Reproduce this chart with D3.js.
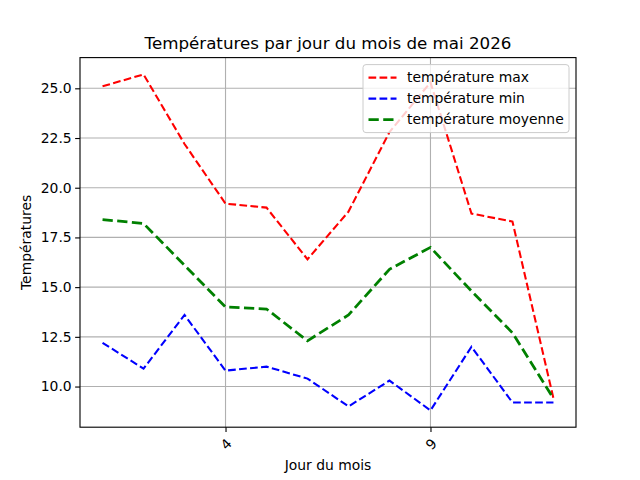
<!DOCTYPE html>
<html>
<head>
<meta charset="utf-8">
<script src="https://cdn.jsdelivr.net/npm/d3@7"></script>
<style>
  body { margin: 0; background: #fff; }
  svg { font-family: "DejaVu Sans", sans-serif; }
</style>
</head>
<body>
<div id="chart"></div>
<script>
var w = 640, h = 480;
var margin = {left: 80, right: 64, top: 57.6, bottom: 52.8};
var pt = 100 / 72;

// données
var jours = [1, 2, 3, 4, 5, 6, 7, 8, 9, 10, 11, 12];
var tMax = [25.1, 25.7, 22.2, 19.2, 19.0, 16.4, 18.8, 22.8, 25.3, 18.7, 18.3, 9.4];
var tMin = [12.2, 10.9, 13.6, 10.8, 11.0, 10.4, 9.0, 10.3, 8.8, 12.0, 9.2, 9.2];
var tMoy = [18.4, 18.2, 16.1, 14.0, 13.9, 12.3, 13.6, 15.9, 17.0, 14.8, 12.7, 9.4];
var xTicks = [4, 9];
var yTicks = [10.0, 12.5, 15.0, 17.5, 20.0, 22.5, 25.0];

var series = [
  {name: "température max", values: tMax, color: "red", lw: 1.5},
  {name: "température min", values: tMin, color: "blue", lw: 1.5},
  {name: "température moyenne", values: tMoy, color: "green", lw: 2}
];

function dash(lw) {
  return (3.7 * lw * pt) + "," + (1.6 * lw * pt);
}

var iw = w - margin.left - margin.right,
    ih = h - margin.top - margin.bottom;

var svg = d3.select("#chart").append("svg").attr("width", w).attr("height", h);
var g = svg.append("g").attr("transform", "translate(" + margin.left + "," + margin.top + ")");

var allVals = tMax.concat(tMin, tMoy);
var ymin = d3.min(allVals), ymax = d3.max(allVals);
var ypad = (ymax - ymin) * 0.05;
var xpad = (d3.max(jours) - d3.min(jours)) * 0.05;

var x = d3.scaleLinear().domain([d3.min(jours) - xpad, d3.max(jours) + xpad]).range([0, iw]);
var y = d3.scaleLinear().domain([ymin - ypad, ymax + ypad]).range([ih, 0]);

// grille
g.append("g").selectAll("line").data(xTicks).enter().append("line")
  .attr("x1", function (d) { return x(d); }).attr("x2", function (d) { return x(d); })
  .attr("y1", 0).attr("y2", ih)
  .attr("stroke", "#b0b0b0").attr("stroke-width", 0.8 * pt);
g.append("g").selectAll("line").data(yTicks).enter().append("line")
  .attr("x1", 0).attr("x2", iw)
  .attr("y1", function (d) { return y(d); }).attr("y2", function (d) { return y(d); })
  .attr("stroke", "#b0b0b0").attr("stroke-width", 0.8 * pt);

// courbes
var line = d3.line()
  .x(function (d, i) { return x(jours[i]); })
  .y(function (d) { return y(d); });

var clip = svg.append("clipPath").attr("id", "clip");
clip.append("rect").attr("width", iw).attr("height", ih);

var plot = g.append("g").attr("clip-path", "url(#clip)");
series.forEach(function (s) {
  plot.append("path").datum(s.values)
    .attr("d", line)
    .attr("fill", "none")
    .attr("stroke", s.color)
    .attr("stroke-width", s.lw * pt)
    .attr("stroke-dasharray", dash(s.lw));
});

// axes
var xAxis = g.append("g").attr("transform", "translate(0," + ih + ")")
  .call(d3.axisBottom(x).tickValues(xTicks).tickSize(3.5 * pt).tickPadding(3.5).tickFormat(d3.format("d")));
xAxis.selectAll("text")
  .attr("font-size", 13.9)
  .attr("fill", "#000")
  .attr("text-anchor", "middle")
  .attr("dy", null)
  .attr("y", 0)
  .attr("transform", "translate(0,17) rotate(-45)")
  .attr("dominant-baseline", "central");

var yAxis = g.append("g")
  .call(d3.axisLeft(y).tickValues(yTicks).tickSize(3.5 * pt).tickPadding(3.5).tickFormat(d3.format(".1f")));
yAxis.selectAll("text").attr("font-size", 13.9).attr("fill", "#000");

[xAxis, yAxis].forEach(function (a) {
  a.select(".domain").remove();
  a.selectAll(".tick line").attr("stroke", "#000").attr("stroke-width", 0.8 * pt);
  a.attr("font-family", null);
});

// cadre
g.append("rect").attr("width", iw).attr("height", ih)
  .attr("fill", "none").attr("stroke", "#000").attr("stroke-width", 0.8 * pt);

// textes
svg.append("text").attr("x", margin.left + iw / 2).attr("y", 49)
  .attr("text-anchor", "middle").attr("font-size", 16.7)
  .text("Températures par jour du mois de mai 2026");
svg.append("text").attr("x", margin.left + iw / 2).attr("y", 470)
  .attr("text-anchor", "middle").attr("font-size", 13.9)
  .text("Jour du mois");
svg.append("text").attr("transform", "translate(31," + (margin.top + ih / 2) + ") rotate(-90)")
  .attr("text-anchor", "middle").attr("font-size", 13.9)
  .text("Températures");

// légende
var lg = g.append("g").attr("transform", "translate(" + (iw - 213) + ",7)");
lg.append("rect").attr("width", 206).attr("height", 68).attr("rx", 3)
  .attr("fill", "#fff").attr("fill-opacity", 0.8)
  .attr("stroke", "#cccccc").attr("stroke-width", 1);
var items = lg.selectAll("g.item").data(series).enter().append("g")
  .attr("class", "item")
  .attr("transform", function (d, i) { return "translate(0," + (13 + i * 21) + ")"; });
items.append("line")
  .attr("x1", 5.5).attr("x2", 33.5).attr("y1", 0).attr("y2", 0)
  .attr("stroke", function (d) { return d.color; })
  .attr("stroke-width", function (d) { return d.lw * pt; })
  .attr("stroke-dasharray", function (d) { return dash(d.lw); });
items.append("text").attr("x", 44).attr("y", 0).attr("dy", "0.35em")
  .attr("font-size", 13.9)
  .text(function (d) { return d.name; });
</script>
</body>
</html>
